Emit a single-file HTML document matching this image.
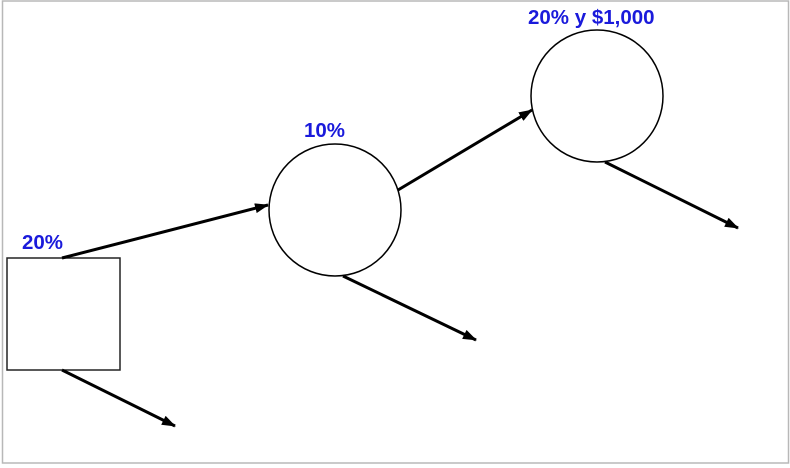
<!DOCTYPE html>
<html><head><meta charset="utf-8"><style>
html,body{margin:0;padding:0;background:#fff}
svg{display:block}
text{font-family:"Liberation Sans",sans-serif;font-weight:bold;font-size:20.5px;fill:#1a1adb}
</style></head><body>
<svg width="790" height="468">
<defs>
<marker id="ah2" markerWidth="14" markerHeight="10" refX="13" refY="5" orient="auto" markerUnits="userSpaceOnUse"><path d="M0,0 L14,5 L0,10 Z" fill="#000"/></marker></defs>
<rect x="2.5" y="1" width="786" height="462" fill="#fff" stroke="#b8b8b8" stroke-width="1.5"/>
<rect x="7" y="258" width="113" height="112" fill="#fff" stroke="#222" stroke-width="1.5"/>
<circle cx="335" cy="210" r="66" fill="#fff" stroke="#000" stroke-width="1.5"/>
<circle cx="597" cy="96" r="66" fill="#fff" stroke="#000" stroke-width="1.5"/>
<g stroke="#000" stroke-width="3" marker-end="url(#ah2)">
<line x1="62" y1="258" x2="268" y2="205"/>
<line x1="62" y1="370" x2="175" y2="426"/>
<line x1="398" y1="190" x2="532" y2="110"/>
<line x1="343" y1="276" x2="476" y2="340"/>
<line x1="605" y1="162" x2="738" y2="228"/>
</g>
<text x="22" y="249">20%</text>
<text x="304" y="137">10%</text>
<text x="528" y="24">20% y $1,000</text>
</svg>
</body></html>
